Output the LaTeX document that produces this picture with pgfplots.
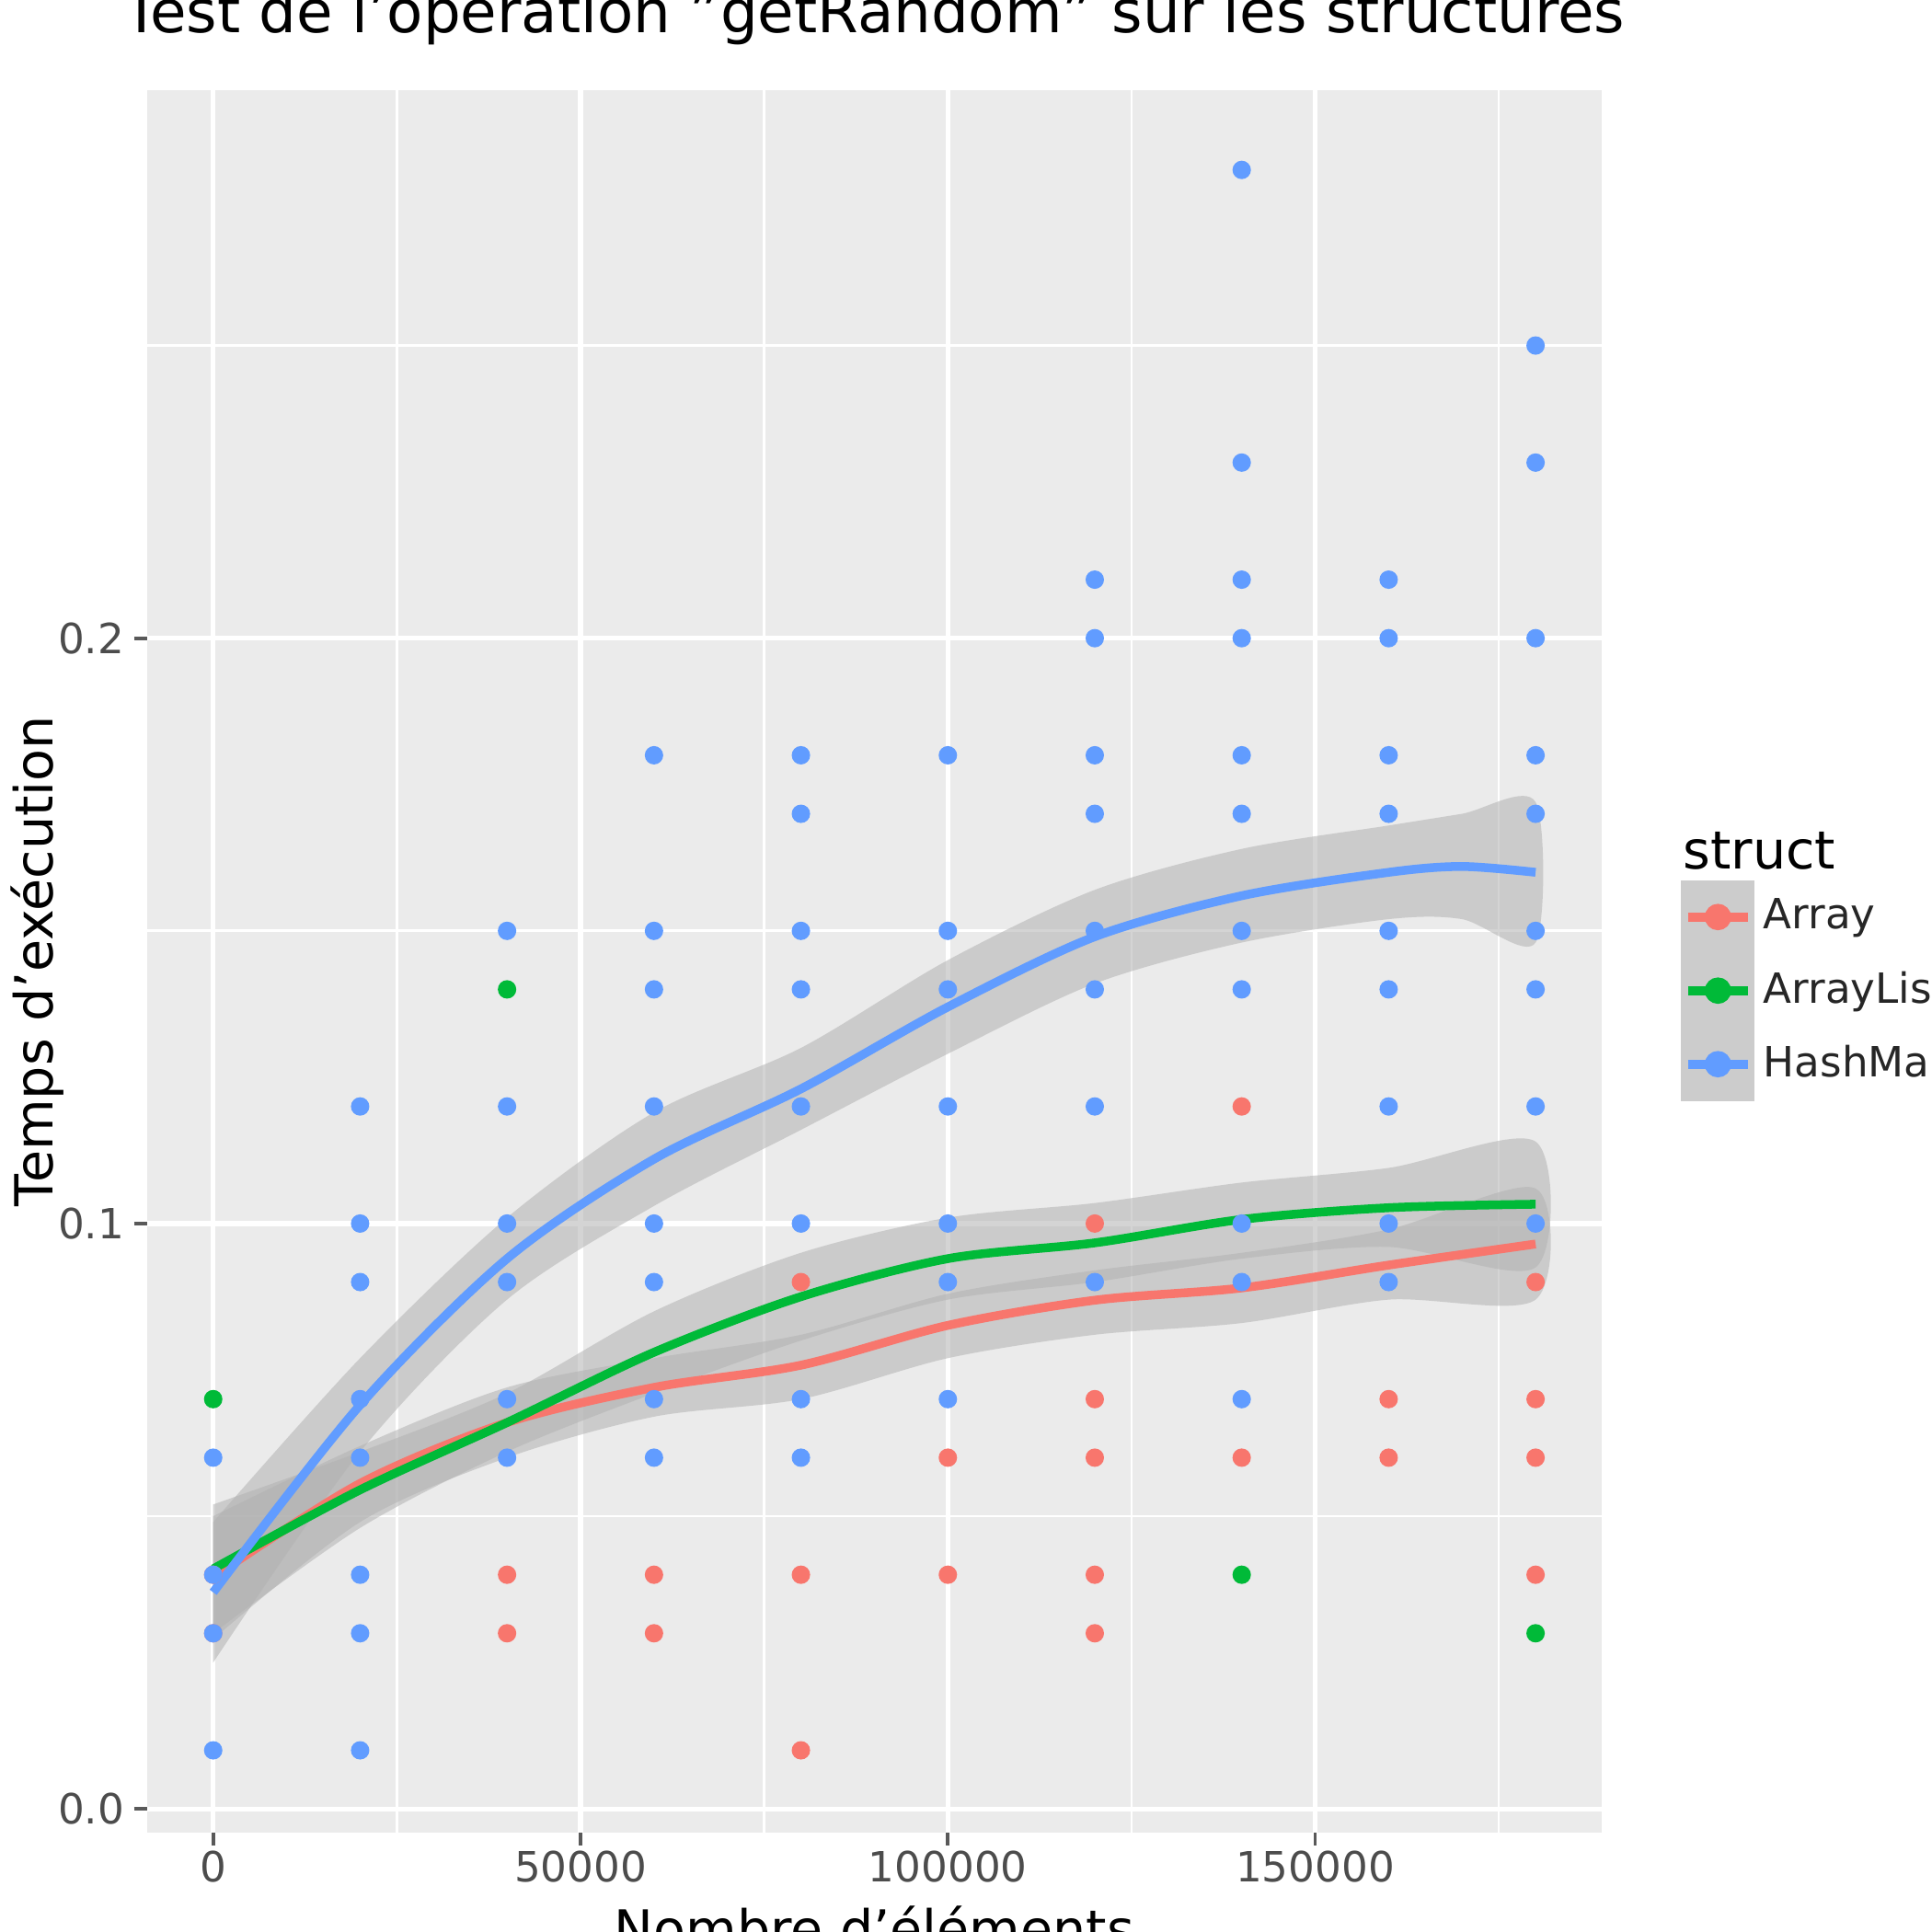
\documentclass[border=0pt]{standalone}
\usepackage{pgfplots}
\pgfplotsset{compat=1.18}
\usepackage{fontspec}
\setmainfont{DejaVu Sans}
\definecolor{cA}{HTML}{F8766D}
\definecolor{cB}{HTML}{00BA38}
\definecolor{cC}{HTML}{619CFF}
\definecolor{bg}{HTML}{EBEBEB}
\begin{document}
\begin{tikzpicture}
\useasboundingbox (-1.18cm,-0.80cm) rectangle (14.32cm,14.70cm);
\begin{axis}[scale only axis, width=11.67cm, height=13.98cm,
  xmin=-9000, xmax=189000, ymin=-0.004, ymax=0.2937,
  axis background/.style={fill=bg}, axis line style={draw=none},
  xtick={0,50000,100000,150000}, ytick={0,0.1,0.2},
  minor xtick={25000,75000,125000,175000}, minor ytick={0.05,0.15,0.25},
  xticklabels={0,50000,100000,150000}, yticklabels={0.0,0.1,0.2},
  scaled x ticks=false, tick pos=left,
  grid=both, major grid style={white, line width=1.1pt}, minor grid style={white, line width=0.55pt},
  tick align=outside, major tick length=3pt, minor tick length=0pt,
  tick style={gray!70!black, line width=0.8pt},
  ticklabel style={font=\fontsize{9.5}{11}\selectfont, text=gray!60!black},
  xticklabel style={inner sep=1pt}, yticklabel style={inner sep=2pt},
  /pgf/number format/assume math mode=true,
  xlabel={Nombre d\symbol{39}éléments}, ylabel={Temps d\symbol{39}exécution},
  label style={font=\fontsize{12}{14}\selectfont},
  xlabel style={at={(axis description cs:0.5,-0.042)}, anchor=north, inner sep=0pt},
  ylabel style={at={(axis description cs:-0.0754,0.5)}, anchor=center, inner sep=0pt},
  title={Test de l\symbol{39}opération \symbol{34}getRandom\symbol{34} sur les structures},
  title style={font=\fontsize{13.5}{16}\selectfont, at={(axis description cs:0.5,1)}, anchor=base, yshift=2.5mm},
  legend style={at={(1.045,0.483)}, anchor=west, draw=none, fill=none, font=\fontsize{9.5}{11}\selectfont, row sep=0pt, text=black!85},
  legend cell align=left,
  legend image code/.code={\fill[gray!40] (-0.02cm,-0.26cm) rectangle (0.5cm,0.26cm); \draw[#1, line width=2pt] (0cm,0cm) -- (0.48cm,0cm); \fill[#1] (0.24cm,0cm) circle (2pt);},
]
% scatter
\addplot[only marks, mark=*, mark size=1.9pt, cA, forget plot] coordinates {
(0,0.04)(0,0.03)(40000,0.04)(40000,0.03)(60000,0.04)(60000,0.03)
(80000,0.09)(80000,0.04)(80000,0.01)(100000,0.06)(100000,0.04)
(120000,0.10)(120000,0.07)(120000,0.06)(120000,0.04)(120000,0.03)
(140000,0.12)(140000,0.06)(160000,0.07)(160000,0.06)
(180000,0.09)(180000,0.07)(180000,0.06)(180000,0.04)};
\addplot[only marks, mark=*, mark size=1.9pt, cB, forget plot] coordinates {
(0,0.07)(40000,0.14)(140000,0.04)(180000,0.03)};
\addplot[only marks, mark=*, mark size=1.9pt, cC, forget plot] coordinates {
(0,0.06)(0,0.04)(0,0.03)(0,0.01)
(20000,0.12)(20000,0.10)(20000,0.09)(20000,0.07)(20000,0.06)(20000,0.04)(20000,0.03)(20000,0.01)
(40000,0.15)(40000,0.12)(40000,0.10)(40000,0.09)(40000,0.07)(40000,0.06)
(60000,0.18)(60000,0.15)(60000,0.14)(60000,0.12)(60000,0.10)(60000,0.09)(60000,0.07)(60000,0.06)
(80000,0.18)(80000,0.17)(80000,0.15)(80000,0.14)(80000,0.12)(80000,0.10)(80000,0.07)(80000,0.06)
(100000,0.18)(100000,0.15)(100000,0.14)(100000,0.12)(100000,0.10)(100000,0.09)(100000,0.07)
(120000,0.21)(120000,0.20)(120000,0.18)(120000,0.17)(120000,0.15)(120000,0.14)(120000,0.12)(120000,0.09)
(140000,0.28)(140000,0.23)(140000,0.21)(140000,0.20)(140000,0.18)(140000,0.17)(140000,0.15)(140000,0.14)(140000,0.10)(140000,0.09)(140000,0.07)
(160000,0.21)(160000,0.20)(160000,0.18)(160000,0.17)(160000,0.15)(160000,0.14)(160000,0.12)(160000,0.10)(160000,0.09)
(180000,0.25)(180000,0.23)(180000,0.20)(180000,0.18)(180000,0.17)(180000,0.15)(180000,0.14)(180000,0.12)(180000,0.10)};
% bands
\addplot[fill=gray!60, fill opacity=0.55, draw=none, smooth, forget plot] coordinates {
(0,0.050)(20000,0.062)(40000,0.072)(60000,0.077)(80000,0.081)(100000,0.088)(120000,0.092)(140000,0.095)(160000,0.099)(180000,0.106)
(180000,0.087)(160000,0.087)(140000,0.083)(120000,0.081)(100000,0.077)(80000,0.070)(60000,0.067)(40000,0.060)(20000,0.049)(0,0.029)} --cycle;
\addplot[fill=gray!60, fill opacity=0.55, draw=none, smooth, forget plot] coordinates {
(0,0.052)(20000,0.061)(40000,0.071)(60000,0.085)(80000,0.095)(100000,0.101)(120000,0.1035)(140000,0.107)(160000,0.1095)(180000,0.114)
(180000,0.0925)(160000,0.096)(140000,0.094)(120000,0.090)(100000,0.087)(80000,0.080)(60000,0.071)(40000,0.061)(20000,0.048)(0,0.030)} --cycle;
\addplot[fill=gray!60, fill opacity=0.55, draw=none, smooth, forget plot] coordinates {
(0,0.049)(20000,0.077)(40000,0.101)(60000,0.119)(80000,0.130)(100000,0.145)(120000,0.157)(140000,0.164)(160000,0.168)(170000,0.170)(180000,0.172)
(180000,0.148)(170000,0.152)(160000,0.152)(140000,0.148)(120000,0.141)(100000,0.129)(80000,0.116)(60000,0.103)(40000,0.087)(20000,0.061)(0,0.025)} --cycle;
% smooth lines
\addplot[cA, line width=2pt, smooth] coordinates {
(0,0.0396)(20000,0.0556)(40000,0.066)(60000,0.072)(80000,0.0758)(100000,0.0826)(120000,0.0869)(140000,0.089)(160000,0.0929)(180000,0.0965)};
\addlegendentry{Array}
\addplot[cB, line width=2pt, smooth] coordinates {
(0,0.041)(20000,0.0545)(40000,0.066)(60000,0.078)(80000,0.0875)(100000,0.094)(120000,0.0967)(140000,0.1007)(160000,0.1027)(180000,0.1033)};
\addlegendentry{ArrayList}
\addplot[cC, line width=2pt, smooth] coordinates {
(0,0.037)(20000,0.069)(40000,0.094)(60000,0.111)(80000,0.123)(100000,0.137)(120000,0.149)(140000,0.156)(160000,0.160)(170000,0.161)(180000,0.160)};
\addlegendentry{HashMap}
\end{axis}
\node[anchor=west, font=\fontsize{12}{14}\selectfont] at (12.20cm,7.87cm) {struct};
\end{tikzpicture}
\end{document}
